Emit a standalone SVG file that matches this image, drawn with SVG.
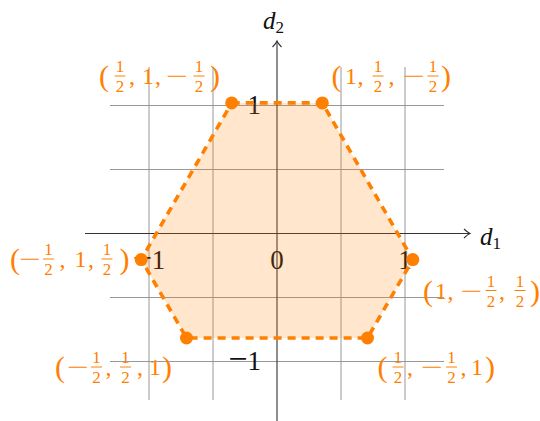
<svg xmlns="http://www.w3.org/2000/svg" width="540" height="421" viewBox="0 0 540 421">
<style>
.grid{stroke:#8c8c8c;stroke-width:0.9;fill:none}
.axis{stroke:#333;stroke-width:1.1;fill:none}
.tick{font-family:"Liberation Serif",serif;font-size:27px;fill:#111}
.ax{font-family:"Liberation Serif",serif;font-size:25px;font-style:italic;fill:#111}
.sub{font-style:normal;font-size:17px}
.hull{fill:#ff8000;fill-opacity:0.2;stroke:none}
.edge{fill:none;stroke:#ff8000;stroke-width:3.6;stroke-dasharray:8 6}
.dot{fill:#ff8000}
.lb text{font-family:"Liberation Serif",serif;font-size:24px;fill:#ff8000;text-anchor:middle}
.lb text.p{font-size:30px}
.lb text.s{font-size:17px}
.lb text.m{text-anchor:start}
.lb line{stroke:#ff8000;stroke-width:1}
</style>
<g id="grid">
<line class="grid" x1="149" y1="67" x2="149" y2="400"/>
<line class="grid" x1="213" y1="67" x2="213" y2="400"/>
<line class="grid" x1="341" y1="67" x2="341" y2="400"/>
<line class="grid" x1="405" y1="67" x2="405" y2="400"/>
<line class="grid" x1="110" y1="105.5" x2="444" y2="105.5"/>
<line class="grid" x1="110" y1="169.5" x2="444" y2="169.5"/>
<line class="grid" x1="110" y1="297.5" x2="444" y2="297.5"/>
<line class="grid" x1="110" y1="361.5" x2="444" y2="361.5"/>
</g>
<g id="axes">
<line class="axis" x1="85" y1="233.5" x2="469.5" y2="233.5"/>
<path class="axis" d="M464,229 Q467.5,232.5 470,233.5 Q467.5,234.5 464,238"/>
<line class="axis" x1="277" y1="421" x2="277" y2="41.5"/>
<path class="axis" d="M272.5,47 Q276,43.5 277,41 Q278,43.5 281.5,47"/>
<text class="ax" x="480" y="245">d<tspan class="sub" dy="4">1</tspan></text>
<text class="ax" x="263" y="28.5">d<tspan class="sub" dy="4">2</tspan></text>
</g>
<g id="ticks">
<text class="tick" x="149" y="268.5" text-anchor="middle"><tspan font-size="34">−</tspan>1</text>
<text class="tick" x="277" y="268.5" text-anchor="middle">0</text>
<text class="tick" x="405" y="268.5" text-anchor="middle">1</text>
<text class="tick" x="261" y="114" text-anchor="end">1</text>
<text class="tick" x="261" y="370" text-anchor="end"><tspan font-size="34">−</tspan>1</text>
</g>
<g id="hexagon">
<polygon class="hull" points="231.7,102.9 322.3,102.9 412.8,259.6 367.5,338 186.5,338 141.2,259.6"/>
<polygon class="edge" points="231.7,102.9 322.3,102.9 412.8,259.6 367.5,338 186.5,338 141.2,259.6"/>
</g>
<g id="connectors"></g>
<g id="v1">
<circle class="dot" cx="231.7" cy="102.9" r="6.5"/>
<g class="lb">
<text class="p" x="104" y="86">(</text>
<text class="s" x="120" y="72">1</text><line x1="114.5" y1="76" x2="125.5" y2="76"/><text class="s" x="120" y="92">2</text>
<text x="132" y="84">,</text>
<text x="148" y="84">1</text>
<text x="158" y="84">,</text>
<text class="m" x="166" y="84" textLength="22" lengthAdjust="spacingAndGlyphs">−</text>
<text class="s" x="199" y="72">1</text><line x1="193.5" y1="76" x2="204.5" y2="76"/><text class="s" x="199" y="92">2</text>
<text class="p" x="215" y="86">)</text>
</g>
</g>
<g id="v2">
<circle class="dot" cx="322.3" cy="102.9" r="6.5"/>
<g class="lb">
<text class="p" x="336.5" y="86">(</text>
<text x="351" y="84">1</text>
<text x="360.5" y="84">,</text>
<text class="s" x="378" y="72">1</text><line x1="372.5" y1="76" x2="383.5" y2="76"/><text class="s" x="378" y="92">2</text>
<text x="391.5" y="84">,</text>
<text class="m" x="403" y="84" textLength="22" lengthAdjust="spacingAndGlyphs">−</text>
<text class="s" x="433" y="72">1</text><line x1="427.5" y1="76" x2="438.5" y2="76"/><text class="s" x="433" y="92">2</text>
<text class="p" x="446" y="86">)</text>
</g>
</g>
<g id="v3">
<circle class="dot" cx="141.2" cy="259.6" r="6.5"/>
<g class="lb">
<text class="p" x="15" y="269">(</text>
<text class="m" x="19" y="267" textLength="22" lengthAdjust="spacingAndGlyphs">−</text>
<text class="s" x="48.5" y="255">1</text><line x1="43" y1="259" x2="54" y2="259"/><text class="s" x="48.5" y="275">2</text>
<text x="62.5" y="267">,</text>
<text x="80.5" y="267">1</text>
<text x="91" y="267">,</text>
<text class="s" x="107" y="255">1</text><line x1="101.5" y1="259" x2="112.5" y2="259"/><text class="s" x="107" y="275">2</text>
<text class="p" x="124.5" y="269">)</text>
</g>
</g>
<g id="v4">
<circle class="dot" cx="412.8" cy="259.6" r="6.5"/>
<g class="lb">
<text class="p" x="428" y="300.5">(</text>
<text x="441" y="298.5">1</text>
<text x="450.5" y="298.5">,</text>
<text class="m" x="460.5" y="298.5" textLength="22" lengthAdjust="spacingAndGlyphs">−</text>
<text class="s" x="491" y="286.5">1</text><line x1="485.5" y1="290.5" x2="496.5" y2="290.5"/><text class="s" x="491" y="306.5">2</text>
<text x="502" y="298.5">,</text>
<text class="s" x="520" y="286.5">1</text><line x1="514.5" y1="290.5" x2="525.5" y2="290.5"/><text class="s" x="520" y="306.5">2</text>
<text class="p" x="535" y="300.5">)</text>
</g>
</g>
<g id="v5">
<circle class="dot" cx="186.5" cy="338" r="6.5"/>
<g class="lb">
<text class="p" x="60" y="377">(</text>
<text class="m" x="67" y="375" textLength="22" lengthAdjust="spacingAndGlyphs">−</text>
<text class="s" x="96.5" y="363">1</text><line x1="91" y1="367" x2="102" y2="367"/><text class="s" x="96.5" y="383">2</text>
<text x="108.5" y="375">,</text>
<text class="s" x="125.5" y="363">1</text><line x1="120" y1="367" x2="131" y2="367"/><text class="s" x="125.5" y="383">2</text>
<text x="140" y="375">,</text>
<text x="155" y="375">1</text>
<text class="p" x="167" y="377">)</text>
</g>
</g>
<g id="v6">
<circle class="dot" cx="367.5" cy="338" r="6.5"/>
<g class="lb">
<text class="p" x="382.5" y="377">(</text>
<text class="s" x="398" y="363">1</text><line x1="392.5" y1="367" x2="403.5" y2="367"/><text class="s" x="398" y="383">2</text>
<text x="410" y="375">,</text>
<text class="m" x="421" y="375" textLength="22" lengthAdjust="spacingAndGlyphs">−</text>
<text class="s" x="451.5" y="363">1</text><line x1="446" y1="367" x2="457" y2="367"/><text class="s" x="451.5" y="383">2</text>
<text x="463.5" y="375">,</text>
<text x="477" y="375">1</text>
<text class="p" x="490" y="377">)</text>
</g>
</g>
</svg>
